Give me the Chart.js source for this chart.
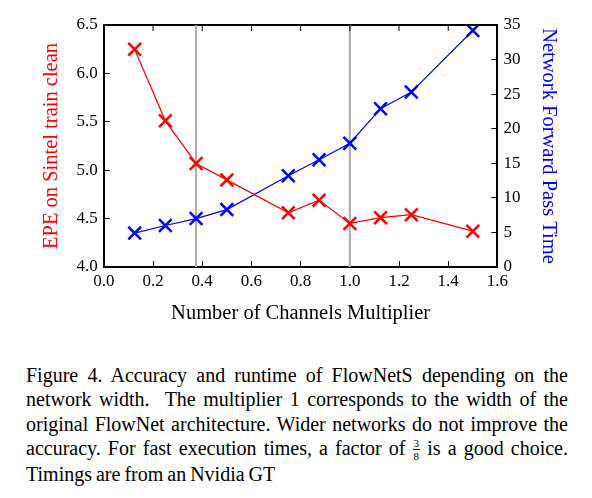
<!DOCTYPE html>
<html>
<head>
<meta charset="utf-8">
<script src="https://cdn.jsdelivr.net/npm/chart.js@4.4.1/dist/chart.umd.min.js"></script>
<style>
  html, body { margin: 0; padding: 0; background: #fff; }
  #wrap { position: relative; width: 592px; height: 330px; }
  #caption {
    position: absolute; left: 26px; top: 363px; width: 542px;
    font-family: "Liberation Serif", serif; font-size: 20px; line-height: 24.3px;
    word-spacing: -1px; text-align: justify; color: #000;
  }
  .frac { display: inline-block; vertical-align: -0.5em; text-align: center; font-size: 11px; line-height: 12px; word-spacing: 0; }
  .frac span { display: block; }
  .frac .num { border-bottom: 1px solid #000; padding: 0 1px; }
</style>
</head>
<body>
<div id="wrap"><canvas id="chart" width="592" height="330"></canvas></div>
<div id="caption">Figure 4. Accuracy and runtime of FlowNetS depending on the network width. &nbsp;The multiplier 1 corresponds to the width of the original FlowNet architecture. Wider networks do not improve the accuracy. For fast execution times, a factor of <span class="frac"><span class="num">3</span><span>8</span></span> is a good choice. Timings are from an Nvidia GT</div>
<script>
// Channel multipliers vs. endpoint error and runtime
const multipliers = [0.125, 0.25, 0.375, 0.5, 0.75, 0.875, 1.0, 1.125, 1.25, 1.5];
const epe         = [6.25, 5.51, 5.07, 4.90, 4.56, 4.69, 4.45, 4.51, 4.54, 4.37];
const runtime     = [4.9, 6.0, 7.0, 8.3, 13.2, 15.5, 17.9, 22.9, 25.3, 34.2];
const markedWidths = [0.375, 1.0];

const xTicks = { min: 0, max: 1.6, step: 0.2 };
const epeTicks = { min: 4.0, max: 6.5, step: 0.5 };
const timeTicks = { min: 0, max: 35, step: 5 };

const serif = '"Liberation Serif", "DejaVu Serif", serif';

// grey marker lines + top ticks, one stroke per line
const markerPlugin = {
  id: 'markerLines',
  beforeDatasetsDraw(chart) {
    const { ctx, chartArea: a, scales } = chart;
    ctx.save();
    ctx.strokeStyle = '#aaaaaa';
    ctx.lineWidth = 2;
    for (const v of markedWidths) {
      const px = scales.x.getPixelForValue(v);
      ctx.beginPath();
      ctx.moveTo(px, a.top);
      ctx.lineTo(px, a.bottom);
      ctx.stroke();
    }
    ctx.strokeStyle = '#000000';
    ctx.lineWidth = 1;
    for (const t of scales.x.ticks) {
      const px = scales.x.getPixelForValue(t.value);
      ctx.beginPath();
      ctx.moveTo(px, a.top);
      ctx.lineTo(px, a.top + 6);
      ctx.stroke();
    }
    ctx.restore();
  }
};

const tickFont = { family: serif, size: 17 };
const titleFont = { family: serif, size: 20.5 };
// inward tick marks: negative tick length, no lines across the plot
const inwardGrid = { display: true, drawOnChartArea: false, drawTicks: true, tickLength: -6, color: '#000', lineWidth: 1 };
const frameBorder = { display: true, color: '#000', width: 2 };

new Chart(document.getElementById('chart'), {
  type: 'line',
  data: {
    datasets: [
      {
        label: 'EPE',
        data: multipliers.map((m, i) => ({ x: m, y: epe[i] })),
        yAxisID: 'y',
        borderColor: '#ff0000',
        backgroundColor: '#ff0000',
        borderWidth: 1.2,
        pointStyle: 'crossRot',
        pointRadius: 9,
        pointBorderWidth: 2.5,
        tension: 0
      },
      {
        label: 'Runtime',
        data: multipliers.map((m, i) => ({ x: m, y: runtime[i] })),
        yAxisID: 'y2',
        borderColor: '#0000ff',
        backgroundColor: '#0000ff',
        borderWidth: 1.2,
        pointStyle: 'crossRot',
        pointRadius: 9,
        pointBorderWidth: 2.5,
        tension: 0
      }
    ]
  },
  options: {
    responsive: false,
    animation: false,
    devicePixelRatio: 1,
    layout: { padding: { top: 17, left: 35, right: 29, bottom: 0 } },
    plugins: { legend: { display: false }, tooltip: { enabled: false } },
    scales: {
      x: {
        type: 'linear', position: 'bottom', min: xTicks.min, max: xTicks.max,
        grid: inwardGrid, border: frameBorder,
        ticks: { stepSize: xTicks.step, color: '#000', font: tickFont, padding: 10,
                 callback: v => v.toFixed(1) },
        title: { display: true, text: 'Number of Channels Multiplier', color: '#000',
                 font: titleFont, padding: { top: 0 } }
      },
      xTop: {
        type: 'linear', position: 'top', min: xTicks.min, max: xTicks.max,
        grid: { display: false }, border: frameBorder,
        ticks: { display: false, stepSize: xTicks.step }
      },
      y: {
        type: 'linear', position: 'left', min: epeTicks.min, max: epeTicks.max,
        grid: inwardGrid, border: frameBorder,
        ticks: { stepSize: epeTicks.step, color: '#000', font: tickFont, padding: 12,
                 callback: v => v.toFixed(1) },
        title: { display: true, text: 'EPE on Sintel train clean', color: '#ff0000',
                 font: titleFont, padding: { bottom: 1 } }
      },
      y2: {
        type: 'linear', position: 'right', min: timeTicks.min, max: timeTicks.max,
        grid: inwardGrid, border: frameBorder,
        ticks: { stepSize: timeTicks.step, color: '#000', font: tickFont, padding: 12 },
        title: { display: true, text: 'Network Forward Pass Time', color: '#0000ff',
                 font: titleFont, padding: { top: 2 } }
      }
    }
  },
  plugins: [markerPlugin]
});
</script>
</body>
</html>
